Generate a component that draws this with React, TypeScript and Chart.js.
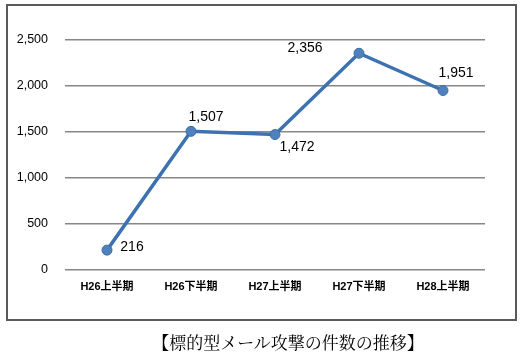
import React, { useEffect, useRef } from "react";
import { Chart, registerables } from "chart.js";

Chart.register(...registerables);

const categories = ["H26上半期", "H26下半期", "H27上半期", "H27下半期", "H28上半期"];
const counts = [216, 1507, 1472, 2356, 1951];
const yTicks = [0, 500, 1000, 1500, 2000, 2500];
const caption = "【標的型メール攻撃の件数の推移】";

// label offsets relative to each point (dx, dy)
const labelOffsets = [
  { dx: 25, dy: -3 },
  { dx: 15, dy: -14 },
  { dx: 22, dy: 13 },
  { dx: -54, dy: -5 },
  { dx: 13, dy: -17 },
];

const fmt = (v: number) => v.toLocaleString("en-US");

const dataLabelPlugin = {
  id: "dataLabels",
  afterDatasetsDraw(chart: any) {
    const ctx = chart.ctx;
    const meta = chart.getDatasetMeta(0);
    ctx.save();
    ctx.font = '14px "Liberation Sans", "Open Sans", sans-serif';
    ctx.fillStyle = "#000";
    ctx.textAlign = "center";
    ctx.textBaseline = "middle";
    meta.data.forEach((pt: any, i: number) => {
      const o = labelOffsets[i];
      ctx.fillText(fmt(counts[i]), pt.x + o.dx, pt.y + o.dy);
    });
    ctx.restore();
  },
};

export default function App() {
  const ref = useRef<HTMLCanvasElement | null>(null);
  useEffect(() => {
    if (!ref.current) return;
    const chart = new Chart(ref.current, {
      type: "line",
      data: {
        labels: categories,
        datasets: [
          {
            data: counts,
            borderColor: "#3D72B0",
            borderWidth: 3.5,
            pointRadius: 5,
            pointBackgroundColor: "#4F81BD",
            pointBorderColor: "#3C6EA8",
            pointBorderWidth: 1,
            tension: 0,
            fill: false,
          },
        ],
      },
      options: {
        animation: false,
        responsive: false,
        maintainAspectRatio: false,
        layout: { padding: { left: 0, right: 41, top: 40, bottom: 0 } },
        plugins: { legend: { display: false }, tooltip: { enabled: false }, title: { display: false } },
        scales: {
          x: {
            offset: true,
            grid: { display: false, drawTicks: false },
            border: { display: false },
            ticks: {
              padding: 10,
              color: "#000",
              font: { family: '"Liberation Sans", "Noto Sans CJK JP", sans-serif', size: 11, weight: "bold" },
              maxRotation: 0,
            },
            afterFit: (s: any) => {
              s.height = 50;
            },
          },
          y: {
            min: 0,
            max: 2500,
            afterBuildTicks: (s: any) => {
              s.ticks = yTicks.map((v) => ({ value: v }));
            },
            grid: { color: "#878787", lineWidth: 1.6, drawTicks: false },
            border: { display: false },
            ticks: {
              padding: 17,
              color: "#000",
              font: { family: '"Liberation Sans", "Open Sans", sans-serif', size: 12.5 },
              callback: (v: any) => fmt(Number(v)),
            },
            afterFit: (s: any) => {
              s.width = 65;
            },
          },
        },
      },
      plugins: [dataLabelPlugin],
    });
    return () => chart.destroy();
  }, []);

  return (
    <div style={{ position: "fixed", left: 0, top: 0, width: 526, height: 357, background: "#fff" }}>
      <canvas ref={ref} width={526} height={320} style={{ position: "absolute", left: 0, top: 0, width: 526, height: 320 }} />
      <div
        style={{
          position: "absolute",
          left: 6,
          top: 4,
          width: 511,
          height: 317,
          border: "2px solid #5a5a5a",
          boxSizing: "border-box",
          pointerEvents: "none",
        }}
      />
      <div
        style={{
          position: "absolute",
          left: 0,
          width: 576,
          top: 331,
          textAlign: "center",
          fontFamily: '"Noto Serif CJK JP", "Noto Sans CJK JP", serif',
          fontSize: 17,
          color: "#000",
          lineHeight: "22px",
          whiteSpace: "nowrap",
        }}
      >
        {caption}
      </div>
    </div>
  );
}
